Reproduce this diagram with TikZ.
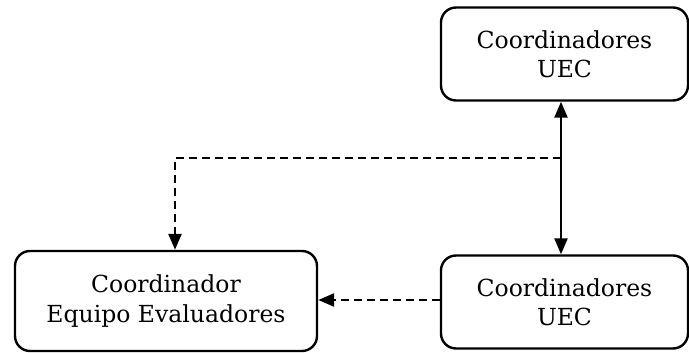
\documentclass[tikz,border=0pt]{standalone}
\usepackage{fontspec}
\setmainfont{DejaVu Serif}
\usetikzlibrary{arrows.meta}
\begin{document}
\begin{tikzpicture}[x=1pt,y=-1pt,
  box/.style={draw,line width=2.4pt,rounded corners=15pt,align=center,inner sep=0pt,
    font=\fontsize{23.5}{29.5}\selectfont},
  tip/.tip={Triangle[length=16pt,width=13pt]},
  link/.style={line width=2.4pt,-tip},
  dlink/.style={link,dash pattern=on 8pt off 5pt}]
\useasboundingbox (0,0) rectangle (689,353);
\node[box,minimum width=247pt,minimum height=93pt] (top) at (564.5,54) {Coordinadores\\UEC};
\node[box,minimum width=247pt,minimum height=93pt] (br) at (564.5,302) {Coordinadores\\UEC};
\node[box,minimum width=302pt,minimum height=100pt] (bl) at (166,301) {Coordinador\\Equipo Evaluadores};
\coordinate (j) at (561,158);
\coordinate (k) at (175,158);
\coordinate (m) at (440,300);
\draw[link,tip-tip] (top.south -| j) -- (br.north -| j);
\draw[dlink] (j) -- (k) -- (k |- bl.north);
\draw[dlink] (m) -- (m -| bl.east);
\end{tikzpicture}
\end{document}
